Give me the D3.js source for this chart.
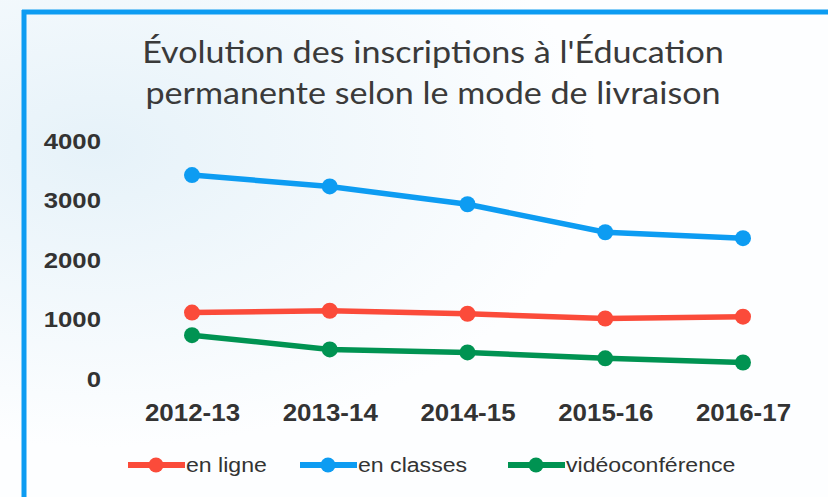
<!DOCTYPE html>
<html>
<head>
<meta charset="utf-8">
<script src="https://cdn.jsdelivr.net/npm/d3@7"></script>
<style>
  html, body { margin: 0; padding: 0; background: #fff; }
  svg { display: block; }
</style>
</head>
<body>
<svg id="chart" width="828" height="497"></svg>
<script>
var years = ['2012-13', '2013-14', '2014-15', '2015-16', '2016-17'];
var enLigne = [1100, 1130, 1080, 1000, 1030];
var enClasses = [3410, 3220, 2920, 2450, 2350];
var videoconf = [720, 480, 430, 330, 260];
var yTicks = [0, 1000, 2000, 3000, 4000];
var titleLines = ["Évolution des inscriptions à l'Éducation", 'permanente selon le mode de livraison'];

var series = [
  {name: 'en ligne', values: enLigne, color: '#fb4b3a'},
  {name: 'en classes', values: enClasses, color: '#0d9cf2'},
  {name: 'vidéoconférence', values: videoconf, color: '#009352'}
];

var svg = d3.select('#chart');

// faint scan haze
var defs = svg.append('defs');
var grad = defs.append('radialGradient')
  .attr('id', 'haze')
  .attr('cx', '0.12').attr('cy', '0.3').attr('r', '0.6');
grad.append('stop').attr('offset', '0%').attr('stop-color', '#e6f2f9');
grad.append('stop').attr('offset', '100%').attr('stop-color', '#fdfeff');
svg.append('rect')
  .attr('width', 828).attr('height', 497)
  .attr('fill', 'url(#haze)');

// frame
svg.append('line')
  .attr('x1', 22).attr('x2', 828).attr('y1', 12).attr('y2', 12)
  .style('stroke', '#0d9cf2').style('stroke-width', 5);
svg.append('line')
  .attr('x1', 24).attr('x2', 24).attr('y1', 10).attr('y2', 497)
  .style('stroke', '#0d9cf2').style('stroke-width', 5);

// title
svg.append('g').selectAll('text')
  .data(titleLines)
  .join('text')
  .attr('transform', function(d, i){ return 'translate(433,' + (63 + i * 41) + ') scale(1.1,1)'; })
  .attr('text-anchor', 'middle')
  .style('font-family', 'Lato, "Noto Sans", sans-serif')
  .style('font-size', '31px')
  .style('fill', '#3a3a3a')
  .text(function(d){ return d; });

var x = d3.scalePoint()
  .domain(years)
  .range([192, 743]);

var y = d3.scaleLinear()
  .domain([0, 4000])
  .range([378, 140]);

// y axis labels
var yAxis = svg.append('g')
  .attr('transform', 'translate(101,0)')
  .call(d3.axisLeft(y).tickValues(yTicks).tickSize(0).tickFormat(d3.format('d')));
yAxis.select('.domain').remove();
yAxis.selectAll('text')
  .attr('x', 0)
  .attr('dy', '0.36em')
  .attr('transform', 'scale(1.12,1)')
  .style('font-family', '"Liberation Sans", Arial, sans-serif')
  .style('font-weight', 'bold')
  .style('font-size', '23px')
  .style('fill', '#333');

// x axis labels
var xAxis = svg.append('g')
  .attr('transform', 'translate(0,412)')
  .call(d3.axisBottom(x).tickSize(0));
xAxis.select('.domain').remove();
xAxis.selectAll('text')
  .attr('y', 0)
  .attr('dy', '0.36em')
  .attr('transform', 'scale(1.08,1)')
  .style('font-family', '"Liberation Sans", Arial, sans-serif')
  .style('font-weight', 'bold')
  .style('font-size', '24px')
  .style('fill', '#333');

// lines
var line = d3.line()
  .x(function(d, i){ return x(years[i]); })
  .y(function(d){ return y(d); });

var g = svg.append('g');
series.forEach(function(s){
  g.append('path')
   .datum(s.values)
   .attr('d', line)
   .style('fill', 'none')
   .style('stroke', s.color)
   .style('stroke-width', 5.5);
  g.selectAll(null)
   .data(s.values)
   .join('circle')
   .attr('cx', function(d, i){ return x(years[i]); })
   .attr('cy', function(d){ return y(d); })
   .attr('r', 8)
   .style('fill', s.color);
});

// legend
var legendX = [128, 300, 508];
var legend = svg.append('g')
  .selectAll('g')
  .data(series)
  .join('g')
  .attr('transform', function(d, i){ return 'translate(' + legendX[i] + ',465)'; });
legend.append('line')
  .attr('x1', 0).attr('x2', 57)
  .attr('y1', 0).attr('y2', 0)
  .style('stroke', function(d){ return d.color; })
  .style('stroke-width', 6);
legend.append('circle')
  .attr('cx', 28).attr('cy', 0).attr('r', 7.5)
  .style('fill', function(d){ return d.color; });
legend.append('text')
  .attr('transform', 'translate(58,0) scale(1.1,1)')
  .attr('dy', '0.35em')
  .style('font-family', '"Liberation Sans", Arial, sans-serif')
  .style('font-size', '21px')
  .style('fill', '#333')
  .text(function(d){ return d.name; });
</script>
</body>
</html>
